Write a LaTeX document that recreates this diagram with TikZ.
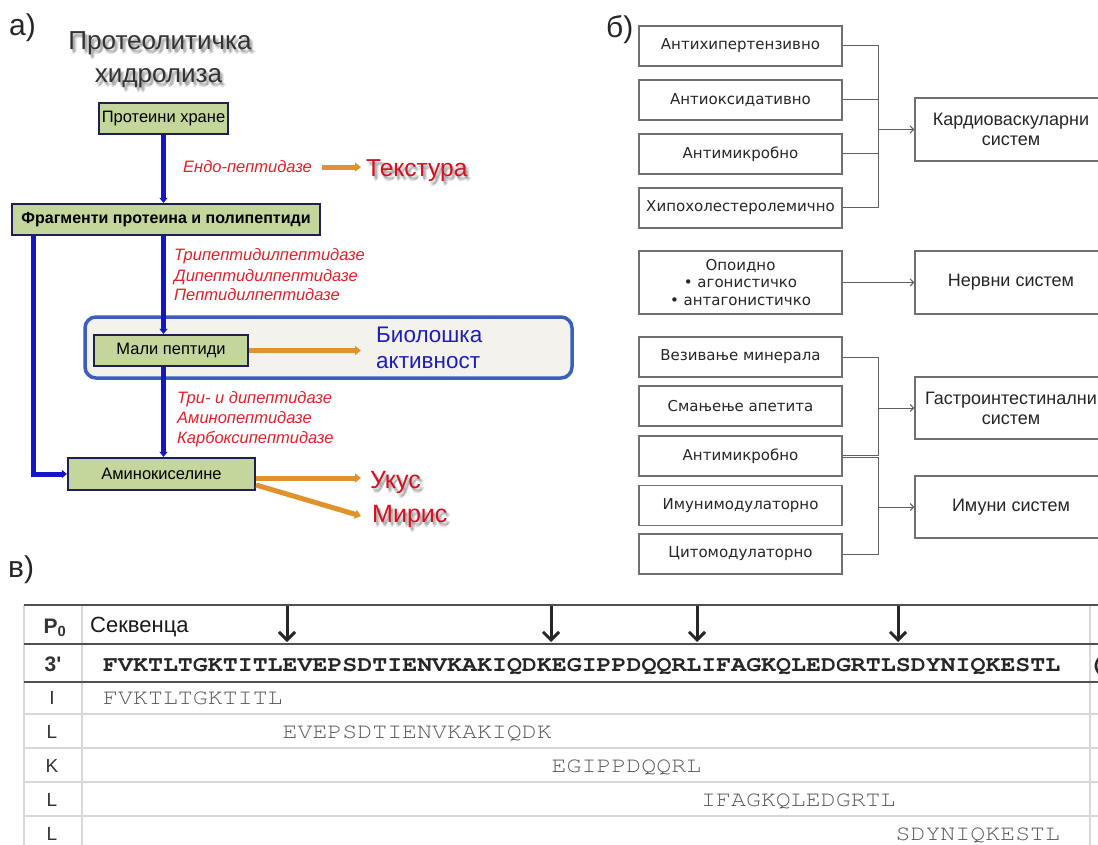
\documentclass[tikz,border=0pt]{standalone}
\usepackage{fontspec}
\setmainfont{Liberation Sans}
\newfontfamily\dvs{DejaVu Sans}
\newfontfamily\seqf[FakeStretch=1.133]{TeX Gyre Cursor}
\usetikzlibrary{arrows.meta}
\definecolor{boxgreen}{HTML}{C3D69B}
\definecolor{navy}{HTML}{1F1F55}
\definecolor{ablue}{HTML}{1414C8}
\definecolor{aorange}{HTML}{E0922C}
\definecolor{ared}{HTML}{E3202A}
\definecolor{tred}{HTML}{D41020}
\definecolor{tblue}{HTML}{1E1EB8}
\definecolor{frameblue}{HTML}{3C5FBE}
\definecolor{framefill}{HTML}{F4F2EC}
\definecolor{bgray}{HTML}{707070}
\definecolor{cgray}{HTML}{606060}
\definecolor{tgray}{HTML}{505050}
\definecolor{lgray}{HTML}{D8D8D8}
\begin{document}
\begin{tikzpicture}[x=1pt,y=1pt,
  gbox/.style={draw=navy, line width=2.2pt, fill=boxgreen, inner sep=0pt, font=\fontsize{16.5}{19}\selectfont},
  barrow/.style={draw=ablue, line width=5pt, -{Triangle[length=5pt,width=8pt]}},
  oarrow/.style={draw=aorange, line width=5pt, -{Triangle[length=6pt,width=9pt]}},
  enz/.style={text=ared, font=\fontsize{16.5}{19}\selectfont\itshape, inner sep=0pt, anchor=base west},
  ttl/.style={inner sep=0pt, anchor=base, text=black!80, font=\fontsize{26}{28}\selectfont},
  shd/.style={text=black, opacity=0.1},
  big/.style={inner sep=0pt, anchor=base west, font=\fontsize{24.5}{27}\selectfont},
  plbl/.style={inner sep=0pt, anchor=base west, text=black!85, font=\fontsize{30}{32}\selectfont},
  bbox/.style={draw=bgray, line width=1.3pt, minimum width=203pt, minimum height=40pt, inner sep=0pt, text=black!85, font=\dvs\fontsize{15}{17.5}\selectfont, align=center},
  rbox/.style={draw=bgray, line width=1.3pt, minimum width=192pt, minimum height=62pt, inner sep=0pt, text=black!85, font=\fontsize{18}{20}\selectfont, align=center},
  conn/.style={draw=cgray, line width=1pt},
  carr/.style={-{Straight Barb[length=3.5pt,width=7pt]}},
  thk/.style={draw=tgray, line width=2pt},
  thn/.style={draw=lgray, line width=2pt},
  rlbl/.style={inner sep=0pt, anchor=base, text=black!80, font=\fontsize{19}{22}\selectfont},
  seqb/.style={inner sep=0pt, anchor=base west, text=black!85, font=\seqf\bfseries\fontsize{22}{24}\selectfont},
  seqr/.style={inner sep=0pt, anchor=base west, text=black!65, font=\seqf\fontsize{22}{24}\selectfont},
  tarr/.style={draw=black!85, line width=3pt, -{Straight Barb[length=8pt,width=16pt]}}
]
\useasboundingbox (0,0) rectangle (1098,-845);
\clip (0,0) rectangle (1098,-845);
\fill[white] (0,0) rectangle (1098,-845);

% ---------- panel a ----------
\node[plbl] (la) at (9,-36) {а)};
\foreach \dx/\dy [count=\k] in {1/-2,2/-3,3/-4,2/-5,4/-3} {
  \node[ttl,shd] (t1s\k) at (160+\dx,-50+\dy) {Протеолитичка};
  \node[ttl,shd] (t2s\k) at (158.5+\dx,-83+\dy) {хидролиза};
  \node[big,shd] (teks\k) at (366+\dx,-177+\dy) {Текстура};
  \node[big,shd,font=\fontsize{22.5}{25}\selectfont] (bio1s\k) at (376+\dx,-342+\dy) {Биолошка};
  \node[big,shd,font=\fontsize{22.5}{25}\selectfont] (bio2s\k) at (376+\dx,-368+\dy) {активност};
  \node[big,shd,font=\fontsize{25}{27}\selectfont] (ukuss\k) at (370+\dx,-488+\dy) {Укус};
  \node[big,shd,font=\fontsize{25}{27}\selectfont] (miriss\k) at (372+\dx,-522+\dy) {Мирис};
}
\node[ttl] (t1) at (160,-50) {Протеолитичка};
\node[ttl] (t2) at (158.5,-83) {хидролиза};

\node[draw=frameblue, line width=3.5pt, fill=framefill, rounded corners=11pt, minimum width=487pt, minimum height=61pt, inner sep=0pt] (frame) at (328.5,-347.5) {};

\node[gbox, minimum width=129pt, minimum height=31pt] (prot) at (163.5,-118.5) {Протеини хране};
\node[gbox, minimum width=308pt, minimum height=31pt, font=\fontsize{16}{19}\selectfont\bfseries] (frag) at (166,-219.5) {Фрагменти протеина и полипептиди};
\node[gbox, minimum width=154pt, minimum height=31pt] (mali) at (171,-350.5) {Мали пептиди};
\node[gbox, minimum width=187pt, minimum height=32pt] (amino) at (161.5,-474) {Аминокиселине};

\node[enz] (endo) at (183,-173) {Ендо-пептидазе};
\node[big,text=tred] (tek) at (366,-177) {Текстура};
\node[enz] (e1) at (174,-261) {Трипептидилпептидазе};
\node[enz] (e2) at (174,-281) {Дипептидилпептидазе};
\node[enz] (e3) at (174,-301) {Пептидилпептидазе};
\node[big,text=tblue, font=\fontsize{22.5}{25}\selectfont] (bio1) at (376,-342) {Биолошка};
\node[big,text=tblue, font=\fontsize{22.5}{25}\selectfont] (bio2) at (376,-368) {активност};
\node[enz] (e4) at (177,-403) {Три- и дипептидазе};
\node[enz] (e5) at (177,-423) {Аминопептидазе};
\node[enz] (e6) at (177,-443) {Карбоксипептидазе};
\node[big,text=tred, font=\fontsize{25}{27}\selectfont] (ukus) at (370,-488) {Укус};
\node[big,text=tred, font=\fontsize{25}{27}\selectfont] (miris) at (372,-522) {Мирис};

\coordinate (lft) at (33,0);
\draw[barrow] (prot.south) -- (prot.south |- frag.north);
\draw[barrow] (frag.south -| prot.south) -- (mali.north -| prot.south);
\draw[barrow] (mali.south -| prot.south) -- (amino.north -| prot.south);
\draw[barrow] (frag.south -| lft) |- (amino.west);
\draw[oarrow] ([xshift=10pt]endo.east) -- ([xshift=-5pt]tek.west |- endo.east);
\draw[oarrow] (mali.east) -- ([xshift=-15pt]bio1.west |- mali.east);
\draw[oarrow] ([yshift=-4pt]amino.east) -- ([xshift=-9pt]ukus.west |- 0,-478);
\draw[oarrow] ([yshift=-11pt]amino.east) -- ([xshift=-11pt]miris.west);

% ---------- panel b ----------
\node[plbl] (lb) at (606,-38) {б)};
\node[bbox] (b1) at (740.5,-46) {Антихипертензивно};
\node[bbox] (b2) at (740.5,-100) {Антиоксидативно};
\node[bbox] (b3) at (740.5,-154) {Антимикробно};
\node[bbox] (b4) at (740.5,-208) {Хипохолестеролемично};
\node[bbox, minimum height=63pt] (b5) at (740.5,-282.5) {Опоидно\\• агонистичко\\• антагонистичко};
\node[bbox] (b6) at (740.5,-357) {Везивање минерала};
\node[bbox] (b7) at (740.5,-406) {Смањење апетита};
\node[bbox] (b8) at (740.5,-456) {Антимикробно};
\node[bbox] (b9) at (740.5,-505.5) {Имунимодулаторно};
\node[bbox] (b10) at (740.5,-554) {Цитомодулаторно};
\node[rbox, minimum height=63pt] (r1) at (1011,-129.5) {Кардиоваскуларни\\систем};
\node[rbox, minimum height=63pt] (r2) at (1011,-282.5) {Нервни систем};
\node[rbox] (r3) at (1011,-408) {Гастроинтестинални\\систем};
\node[rbox] (r4) at (1011,-507) {Имуни систем};

\coordinate (j1) at (878,0);
\draw[conn] (b1.east) -- (b1.east -| j1) -- (b4.east -| j1) -- (b4.east);
\draw[conn] (b2.east) -- (b2.east -| j1);
\draw[conn] (b3.east) -- (b3.east -| j1);
\draw[conn,carr] (r1.west -| j1) -- (r1.west);
\draw[conn,carr] (b5.east) -- (r2.west);
\draw[conn] (b6.east) -| ([yshift=1pt]b8.east -| j1) -- ([yshift=1pt]b8.east);
\draw[conn] ([yshift=-1.5pt]b8.east) -| (b10.east -| j1) -- (b10.east);
\draw[conn,carr] (r3.west -| j1) -- (r3.west);
\draw[conn,carr] (r4.west -| j1) -- (r4.west);

% ---------- panel c ----------
\node[plbl] (lc) at (8,-577) {в)};
\draw[draw=lgray, line width=1.6pt] (24,-605) -- (24,-845);
\draw[draw=lgray, line width=1.6pt] (82,-605) -- (82,-845);
\draw[draw=lgray, line width=1.6pt] (1090,-605) -- (1090,-845);
\draw[thn] (24,-714) -- (1098,-714);
\draw[thn] (24,-748) -- (1098,-748);
\draw[thn] (24,-782) -- (1098,-782);
\draw[thn] (24,-816) -- (1098,-816);
\draw[thk] (24,-605) -- (1098,-605);
\draw[thk] (24,-644) -- (1098,-644);
\draw[thk] (24,-682) -- (1098,-682);

\node[rlbl, font=\fontsize{21}{24}\selectfont\bfseries] (p0) at (55,-633) {P\textsubscript{0}};
\node[inner sep=0pt, anchor=base west, text=black!90, font=\fontsize{22}{25}\selectfont] (sek) at (90,-632) {Секвенца};
\node[rlbl, font=\fontsize{21}{24}\selectfont\bfseries] (p3) at (53,-671) {3\textquotesingle};
\node[seqb] (seq) at (103,-671) {FVKTLTGKTITLEVEPSDTIENVKAKIQDKEGIPPDQQRLIFAGKQLEDGRTLSDYNIQKESTL};
\node[seqb] (seqx) at (1088,-671) {(};

\node[rlbl] (l1) at (52,-704) {I};
\node[rlbl] (l2) at (52,-738.5) {L};
\node[rlbl] (l3) at (52,-772.5) {K};
\node[rlbl] (l4) at (52,-806.5) {L};
\node[rlbl] (l5) at (52,-840) {L};
\node[seqr] (s1) at (103,-704) {FVKTLTGKTITL};
\node[seqr] (s2) at (282.4,-738.5) {EVEPSDTIENVKAKIQDK};
\node[seqr] (s3) at (551.5,-772.5) {EGIPPDQQRL};
\node[seqr] (s4) at (701,-806.5) {IFAGKQLEDGRTL};
\node[seqr] (s5) at (895.4,-840) {SDYNIQKESTL};

\coordinate (a1t) at (287,-606); \coordinate (a1b) at (287,-642);
\coordinate (a2t) at (551,-606); \coordinate (a2b) at (551,-642);
\coordinate (a3t) at (697,-606); \coordinate (a3b) at (697,-642);
\coordinate (a4t) at (898,-606); \coordinate (a4b) at (898,-642);
\draw[tarr] (a1t) -- (a1b);
\draw[tarr] (a2t) -- (a2b);
\draw[tarr] (a3t) -- (a3b);
\draw[tarr] (a4t) -- (a4b);
\end{tikzpicture}
\end{document}
